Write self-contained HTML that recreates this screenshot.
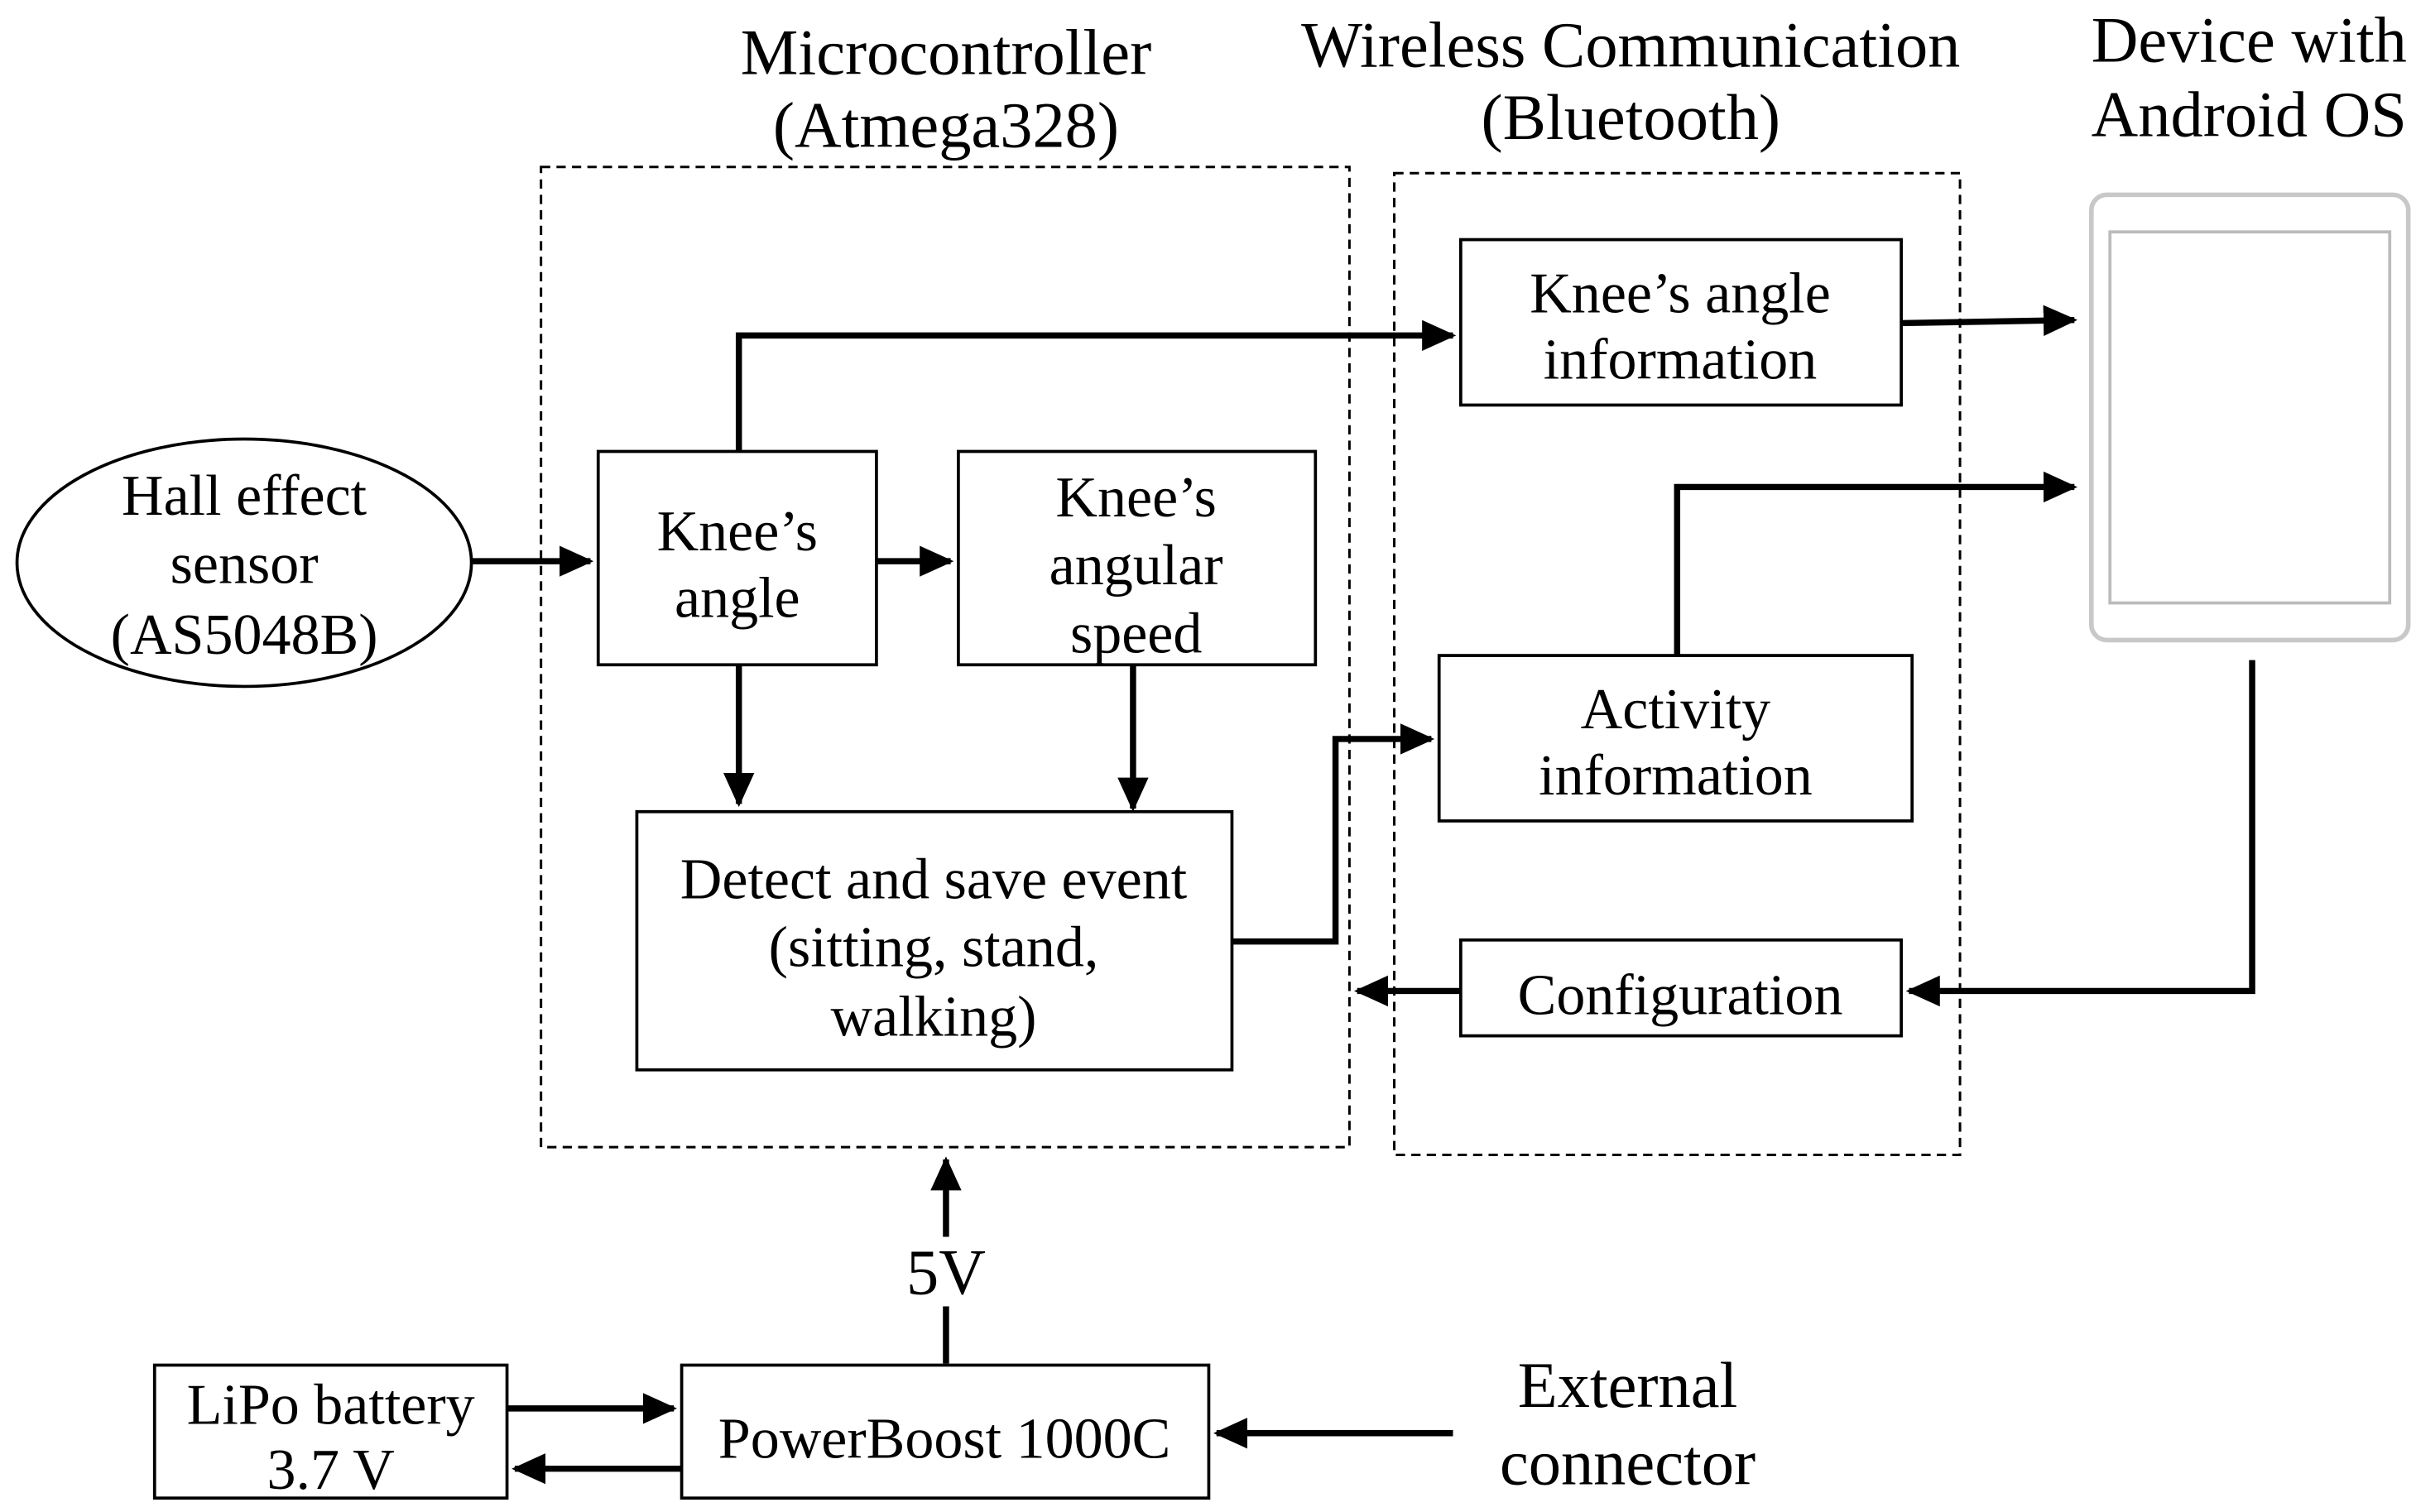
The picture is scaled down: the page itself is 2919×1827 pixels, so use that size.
<!DOCTYPE html>
<html><head><style>html,body{margin:0;padding:0;background:#fff}svg{display:block}</style></head>
<body>
<svg width="2919" height="1827" viewBox="0 0 1563 978" preserveAspectRatio="none" xmlns="http://www.w3.org/2000/svg">
<defs>
<marker id="a" markerWidth="6" markerHeight="6" refX="5" refY="3" orient="auto" markerUnits="strokeWidth"><path d="M0,0.5 L5.5,3 L0,5.5 Z" fill="#000"/></marker>
</defs>
<g font-family="Liberation Serif, serif" font-size="42" text-anchor="middle" fill="#000">
<text x="612" y="48">Microcontroller</text>
<text x="612" y="95">(Atmega328)</text>
<text x="1055" y="43">Wireless Communication</text>
<text x="1055" y="90">(Bluetooth)</text>
<text x="1455" y="40">Device with</text>
<text x="1455" y="88">Android OS</text>
<text x="1053" y="910">External</text>
<text x="1053" y="960">connector</text>
<text x="612" y="837">5V</text>
</g>
<g font-family="Liberation Serif, serif" font-size="37.5" text-anchor="middle" fill="#000">
<text x="158" y="333">Hall effect</text>
<text x="158" y="377">sensor</text>
<text x="158" y="423">(AS5048B)</text>
<text x="477" y="356">Knee’s</text>
<text x="477" y="399">angle</text>
<text x="735" y="334">Knee’s</text>
<text x="735" y="378">angular</text>
<text x="735" y="422">speed</text>
<text x="604" y="581">Detect and save event</text>
<text x="604" y="625">(sitting, stand,</text>
<text x="604" y="670">walking)</text>
<text x="1087" y="202">Knee’s angle</text>
<text x="1087" y="245">information</text>
<text x="1084" y="471">Activity</text>
<text x="1084" y="514">information</text>
<text x="1087" y="656">Configuration</text>
<text x="214" y="921">LiPo battery</text>
<text x="214" y="963">3.7 V</text>
<text x="611" y="943">PowerBoost 1000C</text>
</g>
<g fill="none" stroke="#000" stroke-width="1.6" stroke-dasharray="6,4">
<rect x="350" y="108" width="523" height="634"/>
<rect x="902" y="112" width="366" height="635"/>
</g>
<g fill="none" stroke="#000" stroke-width="2">
<ellipse cx="158" cy="364" rx="147" ry="80"/>
<rect x="387" y="292" width="180" height="138"/>
<rect x="620" y="292" width="231" height="138"/>
<rect x="412" y="525" width="385" height="167"/>
<rect x="945" y="155" width="285" height="107"/>
<rect x="931" y="424" width="306" height="107"/>
<rect x="945" y="608" width="285" height="62"/>
<rect x="100" y="883" width="228" height="86"/>
<rect x="441" y="883" width="341" height="86"/>
</g>
<rect x="1353" y="126" width="205" height="288" rx="10" fill="none" stroke="#c8c8c8" stroke-width="3"/>
<rect x="1365" y="150" width="181" height="240" fill="none" stroke="#bbb" stroke-width="2"/>
<g fill="none" stroke="#000" stroke-width="4" marker-end="url(#a)">
<path d="M305,363 H382"/>
<path d="M567,363 H615"/>
<path d="M478,292 V217 H940"/>
<path d="M478,430 V520"/>
<path d="M733,430 V523"/>
<path d="M797,609 H864 V478 H926"/>
<path d="M1230,209 L1342,207"/>
<path d="M1085,424 V315 H1342"/>
<path d="M1457,427 V641 H1235"/>
<path d="M945,641 H878"/>
<path d="M612,800 V750"/>
<path d="M328,911 H436"/>
<path d="M441,950 H333"/>
<path d="M940,927 H787"/>
</g>
<path d="M612,882 V845" stroke="#000" stroke-width="4"/>
</svg>
</body></html>
